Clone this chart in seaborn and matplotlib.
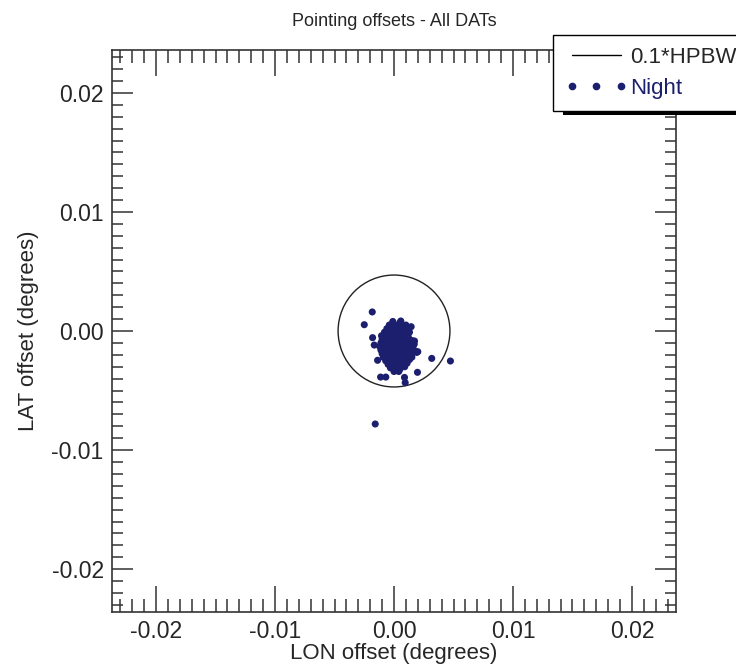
import matplotlib
matplotlib.use("Agg")
import matplotlib.pyplot as plt
import matplotlib.patheffects as pe
from matplotlib.patches import Circle
from matplotlib.lines import Line2D
from matplotlib.ticker import MultipleLocator, FormatStrFormatter
import pandas as pd
import seaborn as sns

# Pointing offsets (degrees)
lon_offset = [
    # main cluster, rows from top to bottom
    -0.0001, 0.0005,
    -0.0004, 0.0001, 0.0006, 0.0010,
    -0.0006, -0.0002, 0.0003, 0.0008, 0.0012,
    -0.0008, -0.0004, 0.0000, 0.0004, 0.0009, 0.0013,
    -0.0009, -0.0005, -0.0001, 0.0003, 0.0007, 0.0012,
    -0.0010, -0.0006, -0.0002, 0.0002, 0.0006, 0.0010, 0.0015,
    -0.0011, -0.0007, -0.0003, 0.0001, 0.0005, 0.0009, 0.0013, 0.0017,
    -0.0012, -0.0008, -0.0004, 0.0000, 0.0004, 0.0008, 0.0012, 0.0016,
    -0.0011, -0.0007, -0.0003, 0.0001, 0.0005, 0.0009, 0.0013, 0.0018,
    -0.0010, -0.0006, -0.0002, 0.0002, 0.0006, 0.0010, 0.0014, 0.0019,
    -0.0009, -0.0005, -0.0001, 0.0003, 0.0007, 0.0011, 0.0015,
    -0.0007, -0.0003, 0.0001, 0.0005, 0.0009, 0.0013,
    -0.0005, -0.0001, 0.0003, 0.0007, 0.0011,
    -0.0003, 0.0001, 0.0005, 0.0009,
    0.0000, 0.0004,
    # scattered points
    -0.00183, -0.00250, -0.00180, -0.00166, -0.00138, -0.00113, -0.00069,
    0.00088, 0.00094, 0.00197, 0.00317, 0.00474, -0.00158, 0.00144,
    0.00057, -0.00105, 0.00200, 0.00172,
]
lat_offset = [
    0.0008, 0.0007,
    0.0005, 0.0005, 0.0004, 0.0005,
    0.0002, 0.0002, 0.0001, 0.0002, 0.0001,
    -0.0001, -0.0001, -0.0002, -0.0001, -0.0002, -0.0001,
    -0.0004, -0.0004, -0.0005, -0.0004, -0.0004, -0.0005,
    -0.0007, -0.0008, -0.0007, -0.0007, -0.0008, -0.0007, -0.0008,
    -0.0010, -0.0011, -0.0010, -0.0010, -0.0011, -0.0010, -0.0010, -0.0011,
    -0.0013, -0.0013, -0.0014, -0.0013, -0.0013, -0.0014, -0.0013, -0.0013,
    -0.0016, -0.0017, -0.0016, -0.0016, -0.0017, -0.0016, -0.0016, -0.0017,
    -0.0019, -0.0019, -0.0020, -0.0019, -0.0019, -0.0020, -0.0019, -0.0018,
    -0.0022, -0.0022, -0.0023, -0.0022, -0.0022, -0.0023, -0.0022,
    -0.0025, -0.0025, -0.0026, -0.0025, -0.0025, -0.0024,
    -0.0028, -0.0028, -0.0029, -0.0028, -0.0027,
    -0.0031, -0.0031, -0.0032, -0.0030,
    -0.0034, -0.0034,
    0.00160, 0.00053, -0.00056, -0.00118, -0.00246, -0.00387, -0.00387,
    -0.00390, -0.00434, -0.00347, -0.00230, -0.00252, -0.00781, 0.00036,
    0.00084, -0.00040, -0.00174, -0.00084,
]
hpbw = 0.047  # degrees

navy = "#1b1f6e"

sns.set_style("ticks")
plt.rcParams["font.family"] = ["Liberation Sans", "DejaVu Sans"]
plt.rcParams["axes.unicode_minus"] = False

fig = plt.figure(figsize=(7.36, 6.66), dpi=100)
ax = fig.add_axes([0.1522, 0.0811, 0.7663, 0.8438])

df = pd.DataFrame({"lon": lon_offset, "lat": lat_offset})
sns.scatterplot(data=df, x="lon", y="lat", ax=ax, color=navy, s=26,
                edgecolor="none", linewidth=0, legend=False, zorder=3)
ax.add_patch(Circle((0, 0), 0.1 * hpbw, fill=False, edgecolor="#222222", lw=1.0))

ax.set_xlim(-0.0237, 0.0237)
ax.set_ylim(-0.0236, 0.0236)
ax.xaxis.set_major_locator(MultipleLocator(0.01))
ax.yaxis.set_major_locator(MultipleLocator(0.01))
ax.xaxis.set_minor_locator(MultipleLocator(0.001))
ax.yaxis.set_minor_locator(MultipleLocator(0.001))
ax.xaxis.set_major_formatter(FormatStrFormatter("%.2f"))
ax.yaxis.set_major_formatter(FormatStrFormatter("%.2f"))

ax.tick_params(which="both", direction="in", top=True, right=True,
               color="#333333", width=1.1, labelsize=16.5, pad=6)
ax.tick_params(axis="x", which="major", length=18.5)
ax.tick_params(axis="x", which="minor", length=9.3)
ax.tick_params(axis="y", which="major", length=15)
ax.tick_params(axis="y", which="minor", length=7.8)
for sp in ax.spines.values():
    sp.set_color("#333333")
    sp.set_linewidth(1.2)

ax.set_title("Pointing offsets - All DATs", fontsize=13, pad=17)
ax.set_xlabel("LON offset (degrees)", fontsize=16, labelpad=0)
ax.set_ylabel("LAT offset (degrees)", fontsize=16, labelpad=9)

handles = [Line2D([], [], color="black", lw=1.0),
           Line2D([], [], ls="none", marker="o", color=navy, ms=4.5)]
leg = fig.legend(handles, ["0.1*HPBW", "Night"], loc="upper left",
                 bbox_to_anchor=(0.7514, 0.9474), borderaxespad=0,
                 numpoints=3, handlelength=2.8, handletextpad=0.1,
                 fontsize=16, fancybox=False, edgecolor="black",
                 framealpha=1, borderpad=0.55, labelspacing=0.45)
leg.get_texts()[1].set_color(navy)
leg.get_frame().set_linewidth(1.0)
leg.get_frame().set_path_effects([
    pe.SimplePatchShadow(offset=(7, -2.2), shadow_rgbFace="black", alpha=1),
    pe.Normal()])

fig.savefig("out.png", dpi=100)
